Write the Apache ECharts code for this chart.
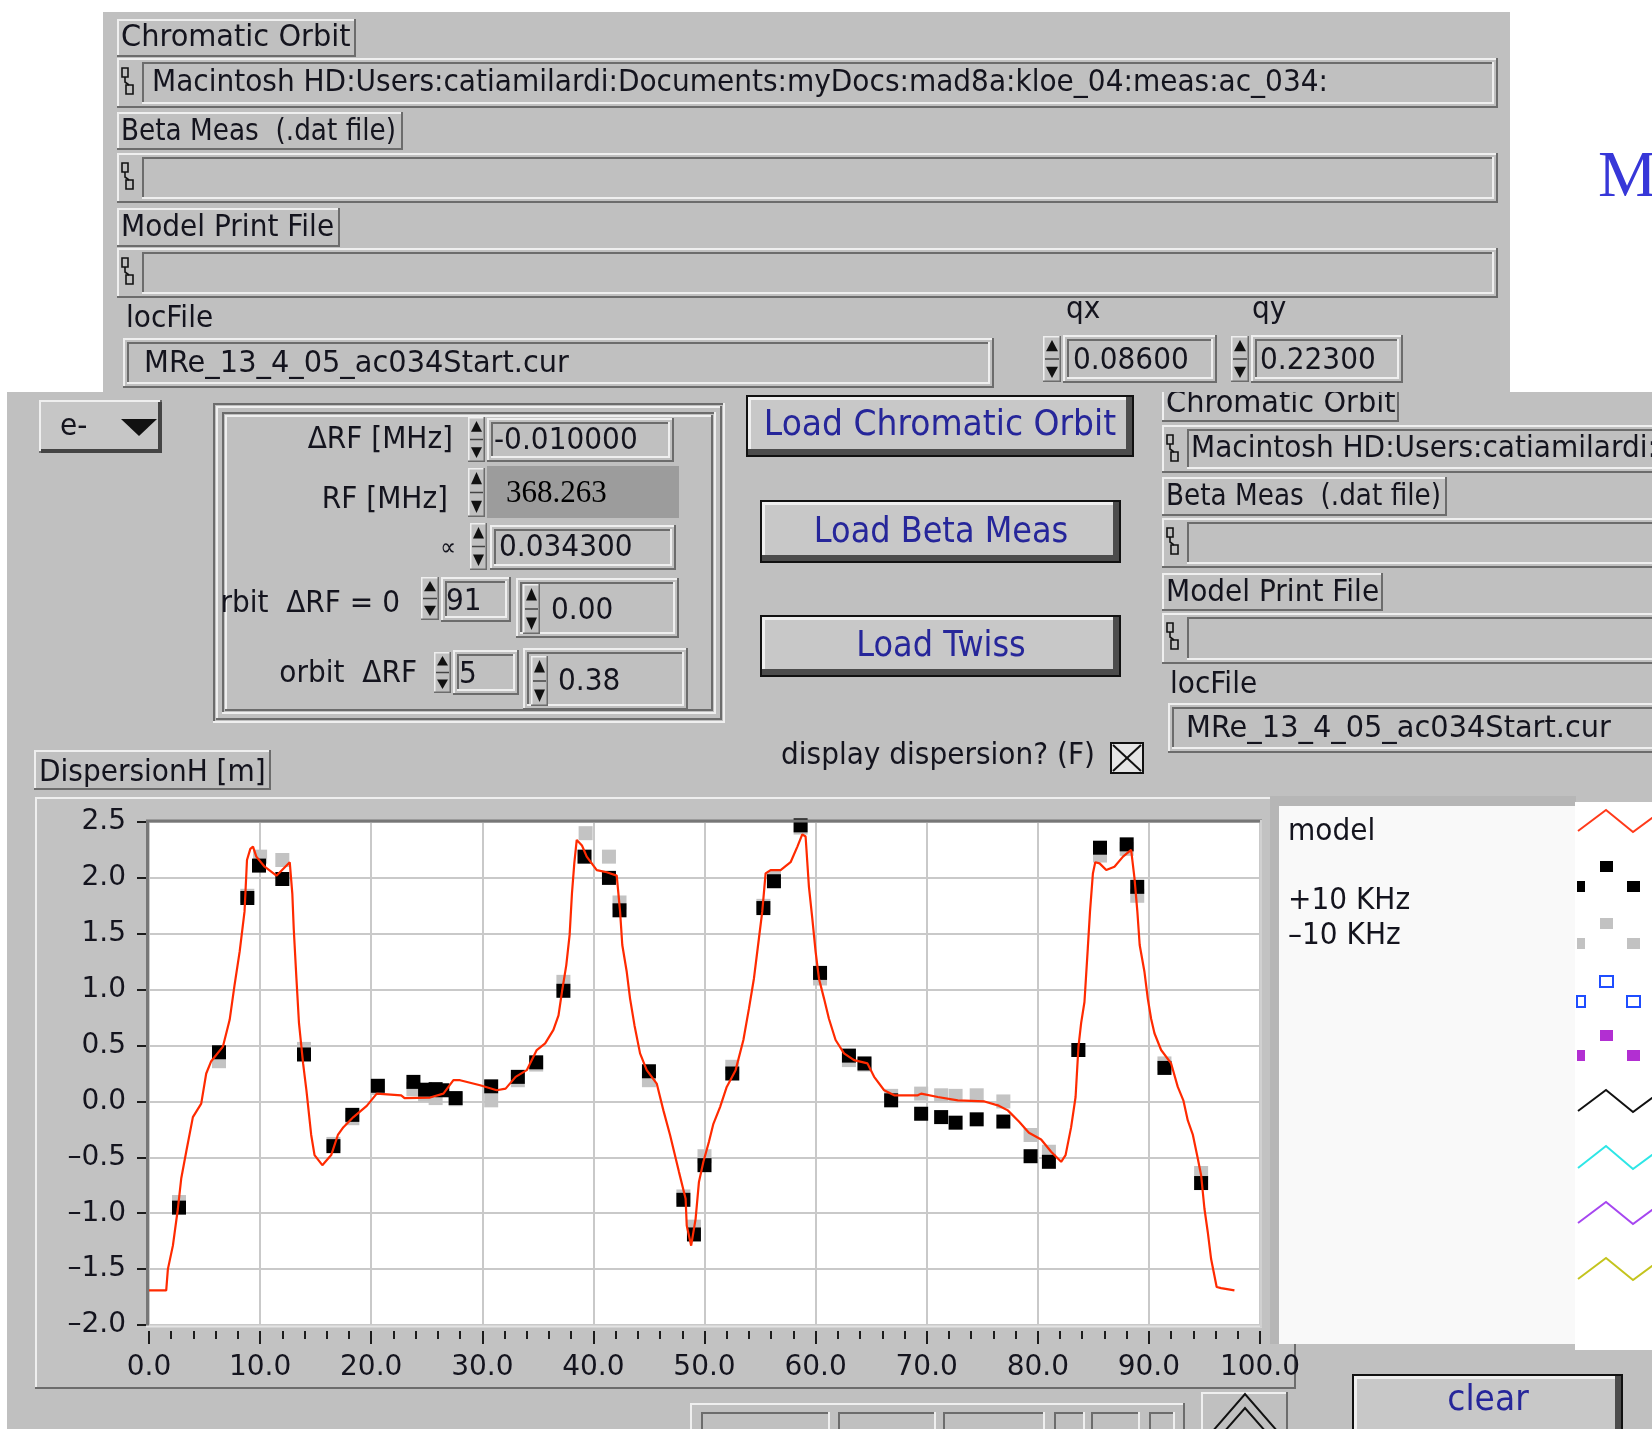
<!DOCTYPE html>
<html>
<head>
<meta charset="utf-8">
<script src="https://cdn.jsdelivr.net/npm/echarts/dist/echarts.min.js"></script>
<style>
html,body{margin:0;padding:0;background:#fff;}
#c{width:1652px;height:1429px;}
</style>
</head>
<body>
<div id="c"></div>
<script>
// Horizontal dispersion along the ring: model curve and two chromatic-orbit measurements
const modelPos = [0,1.55,1.7,2.15,2.6,2.9,3.35,3.95,4.7,5.15,
  5.6,6.65,7.26,7.7,8.16,8.6,8.82,9.12,9.36,9.66,
  10.41,11.47,12.07,12.67,12.9,13.03,13.27,13.5,13.87,14.17,
  14.6,14.9,15.6,16.4,17.0,17.5,18.4,19.6,20.5,22.7,
  23.0,25.3,26.5,27.4,28.0,29.8,31.3,32.1,33.0,34.0,
  34.9,35.66,36.4,36.86,37.17,37.56,37.86,38.07,38.28,38.5,
  38.97,39.4,40.3,41.2,42.1,42.4,42.6,43.0,43.3,43.7,
  44.2,44.8,45.7,46.3,46.9,47.7,48.3,48.4,48.8,49.2,
  49.5,49.9,50.4,50.8,51.4,52.0,52.8,53.5,54.0,54.45,
  54.9,55.2,55.5,55.95,56.85,57.75,58.36,58.8,59.1,59.4,
  59.7,60.0,60.3,60.76,61.2,61.8,62.56,63.46,64.67,65.27,
  66.17,67.07,69.2,69.5,71.0,72.8,75.2,76.4,77.3,78.3,
  79.2,80.3,81.2,82.1,82.5,83.0,83.4,83.66,83.9,84.2,
  84.5,84.7,84.96,85.17,85.56,86.16,86.9,87.67,88.4,88.7,
  88.96,89.17,89.6,89.9,90.2,90.5,91.1,92.0,92.6,93.1,
  93.5,93.96,94.4,94.7,95.0,95.3,95.6,96.1,96.5,97.7];
const modelDisp = [-1.69,-1.69,-1.5,-1.29,-0.96,-0.69,-0.45,-0.14,-0.02,0.25,
  0.36,0.49,0.73,1.04,1.34,1.70,2.16,2.26,2.28,2.19,
  2.10,2.02,2.08,2.14,1.86,1.54,1.10,0.70,0.34,0.10,
  -0.30,-0.48,-0.57,-0.48,-0.30,-0.23,-0.14,-0.04,0.07,0.055,
  0.03,0.035,0.07,0.19,0.19,0.145,0.10,0.115,0.22,0.28,
  0.46,0.52,0.64,0.77,0.98,1.22,1.49,1.86,2.13,2.34,
  2.29,2.19,2.07,2.05,2.02,1.70,1.40,1.16,0.92,0.68,
  0.43,0.28,0.16,-0.08,-0.30,-0.63,-0.87,-1.11,-1.29,-1.05,
  -0.72,-0.54,-0.36,-0.20,-0.05,0.13,0.28,0.55,0.83,1.10,
  1.46,1.70,2.04,2.07,2.07,2.14,2.28,2.39,2.37,1.92,
  1.64,1.34,1.10,0.92,0.74,0.55,0.43,0.37,0.34,0.22,
  0.10,0.055,0.055,0.07,0.04,0.01,0.0,-0.035,-0.08,-0.18,
  -0.28,-0.34,-0.45,-0.54,-0.48,-0.23,0.04,0.49,0.70,0.89,
  1.37,1.70,2.04,2.14,2.13,2.07,2.10,2.19,2.25,2.0,
  1.70,1.40,1.16,0.92,0.74,0.61,0.46,0.34,0.13,0.01,
  -0.17,-0.30,-0.51,-0.66,-0.96,-1.17,-1.41,-1.66,-1.67,-1.69];

// +10 KHz measurement
const plusPos = [2.7,6.3,8.85,9.9,12.0,13.95,16.6,18.3,20.6,23.8,
  24.85,25.8,26.4,27.6,30.8,33.2,34.85,37.3,39.2,41.4,
  42.35,45.0,48.1,49.05,50.0,52.5,55.3,56.25,58.65,60.4,
  63.0,64.4,66.8,69.5,71.3,72.6,74.5,76.9,79.35,81.0,
  83.65,85.6,88.0,88.95,91.4,94.7];
const plusDisp = [-0.95,0.44,1.82,2.11,1.99,0.42,-0.40,-0.12,0.14,0.175,
  0.105,0.11,0.10,0.03,0.135,0.22,0.35,0.99,2.19,2.0,
  1.71,0.27,-0.88,-1.19,-0.57,0.25,1.73,1.97,2.47,1.15,
  0.41,0.34,0.01,-0.11,-0.14,-0.19,-0.16,-0.18,-0.49,-0.54,
  0.46,2.27,2.30,1.92,0.30,-0.73];

// -10 KHz measurement
const minusPos = [2.7,6.3,8.85,10.0,12.0,13.95,16.6,18.3,20.6,23.8,
  24.85,25.8,27.6,30.8,33.2,34.85,37.3,39.3,41.4,42.35,
  45.0,48.1,49.05,50.0,52.5,55.3,56.25,58.65,60.4,63.0,
  64.4,66.8,69.5,71.3,72.6,74.5,76.9,79.35,81.0,83.65,
  85.6,88.0,88.95,91.4,94.7];
const minusDisp = [-0.9,0.36,1.84,2.19,2.16,0.47,-0.38,-0.15,0.12,0.11,
  0.06,0.03,0.02,0.01,0.19,0.33,1.07,2.40,2.19,1.78,
  0.19,-0.85,-1.12,-0.49,0.31,1.75,2.0,2.45,1.10,0.37,
  0.33,0.05,0.07,0.055,0.05,0.055,0.0,-0.30,-0.45,0.46,
  2.2,2.26,1.84,0.34,-0.64];

const legendNames = ['model', '', '+10 KHz', '\u201310 KHz'];
const pathText = 'Macintosh HD:Users:catiamilardi:Documents:myDocs:mad8a:kloe_04:meas:ac_034:';
const locText = 'MRe_13_4_05_ac034Start.cur';

const zip = (a, b) => a.map((v, i) => [v, b[i]]);

// ---------- panel drawing helpers ----------
const FONT = '"DejaVu Sans", "Liberation Sans", sans-serif';
const SERIF = '"Liberation Serif", "DejaVu Serif", serif';
const BG = '#c0c0c0', LT = '#efefef', DK = '#6c6c6c', INK = '#14141e', BTN = '#26269a';
const TALL = 1.1; // panel lettering is drawn taller and horizontally condensed
const els = [];
function rect(x, y, w, h, fill, z, stroke, lw) {
  els.push({type: 'rect', silent: true, z: z || 1, shape: {x, y, width: w, height: h},
    style: {fill: fill || 'none', stroke: stroke || null, lineWidth: lw || 1}});
}
function line(x1, y1, x2, y2, c, w, z) {
  els.push({type: 'line', silent: true, z: z || 1, shape: {x1, y1, x2, y2}, style: {stroke: c, lineWidth: w || 2}});
}
function poly(pts, fill, z) {
  els.push({type: 'polygon', silent: true, z: z || 1, shape: {points: pts}, style: {fill}});
}
function pline(pts, c, w, z) {
  els.push({type: 'polyline', silent: true, z: z || 1, shape: {points: pts}, style: {stroke: c, lineWidth: w || 2, fill: 'none'}});
}
function text(x, base, s, size, o) {
  o = o || {};
  const serif = !!o.family;
  const fs = serif ? size : size * TALL;
  const sx = serif ? 1 : (o.sx || 1) / TALL;
  els.push({type: 'text', silent: true, z: o.z || 2, x: x, y: base - 0.34 * fs, scaleX: sx,
    style: {text: s, font: fs + 'px ' + (o.family || FONT), fill: o.color || INK,
      textAlign: o.align || 'left', align: o.align || 'left', textVerticalAlign: 'middle', verticalAlign: 'middle'}});
}
function bevel(x, y, w, h, up, z, lw) {
  lw = lw || 2;
  const a = up ? LT : DK, b = up ? DK : LT;
  line(x, y + lw / 2, x + w, y + lw / 2, a, lw, z);
  line(x + lw / 2, y, x + lw / 2, y + h, a, lw, z);
  line(x, y + h - lw / 2, x + w, y + h - lw / 2, b, lw, z);
  line(x + w - lw / 2, y, x + w - lw / 2, y + h, b, lw, z);
}
function raised(x, y, w, h, z, fill) { rect(x, y, w, h, fill || BG, z); bevel(x, y, w, h, true, z); }
function field(x, y, w, h, z, fill) {
  rect(x, y, w, h, BG, z);
  bevel(x, y, w, h, true, z);
  if (fill) rect(x + 4, y + 4, w - 8, h - 8, fill, z);
  bevel(x + 4, y + 4, w - 8, h - 8, false, z);
}
function pathIcon(x, y, z) {
  rect(x, y, 6, 9, 'none', z, '#111', 1.6);
  pline([[x + 3, y + 9], [x + 3, y + 14], [x + 7, y + 17]], '#111', 1.6, z);
  rect(x + 4, y + 17, 7, 9, 'none', z, '#111', 1.6);
}
function pathField(x, y, w, h, z) {
  rect(x, y, w, h, BG, z);
  bevel(x, y, w, h, true, z);
  pathIcon(x + 5, y + 10, z);
  bevel(x + 25, y + 4, w - 29, h - 8, false, z);
}
function spinner(x, y, w, h, z) {
  rect(x, y, w, h, BG, z);
  bevel(x, y, w, h, true, z, 1.5);
  const cx = x + w / 2;
  poly([[cx, y + 4], [x + 3, y + h * 0.33], [x + w - 3, y + h * 0.33]], '#111', z);
  line(x + 2, y + h / 2, x + w - 2, y + h / 2, '#444', 1.5, z);
  poly([[x + 3, y + h * 0.67], [x + w - 3, y + h * 0.67], [cx, y + h - 4]], '#111', z);
}
function button(x, y, w, h, label, cx, base, z, size) {
  rect(x, y, w, h, '#111', z);
  rect(x + 2, y + 2, w - 4, h - 4, '#c8c8c8', z);
  line(x + 2, y + 3.5, x + w - 6, y + 3.5, LT, 3, z);
  line(x + 3.5, y + 2, x + 3.5, y + h - 6, LT, 3, z);
  line(x + 2, y + h - 5, x + w - 2, y + h - 5, '#4c4c4c', 6, z);
  line(x + w - 5, y + 2, x + w - 5, y + h - 2, '#4c4c4c', 6, z);
  text(cx, base, label, size || 32, {align: 'center', color: BTN, z: z + 1});
}

// ---------- lower front panel ----------
rect(7, 392, 1660, 1050, BG, 0);

// particle selector
raised(39, 400, 123, 53, 1, '#c6c6c6');
line(41, 451, 162, 451, '#444', 4, 1);
line(160, 402, 160, 453, '#444', 4, 1);
text(60, 437, 'e-', 28);
poly([[121, 419], [157, 419], [139, 436]], '#111', 2);

// parameter group
bevel(213, 403, 512, 320, false, 1);
bevel(216, 406, 506, 314, true, 1);
bevel(222, 412, 494, 302, false, 1);
bevel(225, 415, 488, 296, true, 1);

text(453, 450, '\u0394RF [MHz]', 28, {align: 'right'});
spinner(468, 417, 17, 45, 1);
field(487, 418, 187, 44, 1);
text(494, 451, '-0.010000', 28);

text(448, 510, 'RF [MHz]', 28, {align: 'right'});
spinner(468, 468, 17, 49, 1);
rect(487, 466, 192, 52, '#9c9c9c', 1);
text(506, 504, '368.263', 31, {family: SERIF, color: '#000'});

text(456, 557, '\u221d', 22, {align: 'right'});
spinner(470, 523, 17, 47, 1);
field(490, 525, 186, 45, 1);
text(499, 558, '0.034300', 28);

text(400, 614, 'rbit  \u0394RF = 0', 28, {align: 'right'});
spinner(421, 577, 18, 43, 1);
field(441, 577, 70, 45, 1);
text(446, 612, '91', 28);
field(516, 578, 163, 60, 1);
spinner(523, 584, 17, 50, 1);
text(551, 621, '0.00', 28);

text(417, 684, 'orbit  \u0394RF', 28, {align: 'right'});
spinner(434, 652, 17, 41, 1);
field(453, 650, 66, 45, 1);
text(459, 685, '5', 28);
field(523, 648, 165, 62, 1);
spinner(531, 656, 17, 50, 1);
text(558, 692, '0.38', 28);

// action buttons
button(746, 395, 388, 62, 'Load Chromatic Orbit', 940, 438, 1, 33);
button(760, 500, 361, 63, 'Load Beta Meas', 941, 545, 1);
button(760, 615, 361, 62, 'Load Twiss', 941, 659, 1);

// right-hand file column
raised(1162, 384, 237, 38, 1);
text(1166, 414, 'Chromatic Orbit', 28, {sx: 1.03});
pathField(1162, 425, 520, 48, 1);
text(1191, 459, pathText, 28);
raised(1162, 477, 285, 39, 1);
text(1166, 507, 'Beta Meas  (.dat file)', 28, {sx: 0.94});
pathField(1162, 518, 520, 50, 1);
raised(1162, 573, 221, 38, 1);
text(1166, 603, 'Model Print File', 28);
pathField(1162, 613, 520, 51, 1);
text(1170, 695, 'locFile', 28);
field(1168, 703, 520, 50, 1);
text(1186, 739, locText, 28, {sx: 1.03});

// display toggle
text(781, 766, 'display dispersion? (F)', 28);
rect(1111, 743, 32, 30, '#e6e6e6', 1, '#111', 2);
line(1113, 745, 1141, 771, '#111', 2, 2);
line(1141, 745, 1113, 771, '#111', 2, 2);

// graph caption and frame
raised(34, 750, 237, 40, 1);
text(39, 783, 'DispersionH [m]', 28);
rect(35, 797, 1261, 592, '#c2c2c2', 1);
bevel(35, 797, 1261, 592, true, 1);

// plot area background and sunken edges
const PT = 822, PB = 1325;
rect(149, PT, 1111, PB - PT, '#ffffff', 2);
line(146, PT - 1, 1262, PT - 1, '#777', 3, 8);
line(147.5, PT - 2, 147.5, PB + 1, '#777', 3, 8);
line(146, PB + 1.5, 1262, PB + 1.5, '#e4e4e4', 2, 8);
line(1261, PT - 2, 1261, PB + 2, '#d0d0d0', 2, 8);

// plot legend
rect(1270, 796, 306, 548, '#b6b6b6', 10);
rect(1279, 806, 297, 538, '#f9f9f9', 10);
rect(1575, 802, 90, 548, '#ffffff', 10);
text(1288, 842, legendNames[0], 28, {z: 11});
text(1288, 911, legendNames[2], 28, {z: 11});
text(1288, 946, legendNames[3], 28, {z: 11});
pline([[1578, 831], [1606, 810], [1633, 832], [1660, 812]], '#ff3a1a', 2, 11);
function legendDots(yTop, fill, stroke) {
  const sq = (x, y, w) => stroke ? rect(x, y, w, 11, 'none', 11, stroke, 2) : rect(x, y, w, 11, fill, 11);
  sq(1600, yTop, 13); sq(1577, yTop + 20, 8); sq(1627, yTop + 20, 13);
}
legendDots(861, '#000');
legendDots(918, '#c2c2c2');
legendDots(976, null, '#1f4dff');
legendDots(1030, '#b22fd2');
pline([[1578, 1111], [1606, 1090], [1633, 1112], [1660, 1092]], '#111', 2, 11);
pline([[1578, 1168], [1606, 1146], [1633, 1169], [1660, 1149]], '#2ee6e6', 2, 11);
pline([[1578, 1223], [1606, 1202], [1633, 1224], [1660, 1204]], '#a646f0', 2, 11);
pline([[1578, 1279], [1606, 1258], [1633, 1280], [1660, 1260]], '#c4c41e', 2, 11);

// bottom controls
button(1352, 1374, 271, 70, 'clear', 1488, 1413, 1, 33);
raised(690, 1403, 495, 40, 1);
[[701, 129], [838, 98], [943, 102], [1054, 31], [1091, 49], [1149, 26]].forEach(b => {
  bevel(b[0], 1412, b[1], 30, false, 1);
});
raised(1201, 1392, 87, 45, 1);
pline([[1212, 1432], [1245, 1394], [1278, 1432]], '#111', 2, 2);
pline([[1224, 1432], [1245, 1408], [1266, 1432]], '#111', 2, 2);

// ---------- upper file panel ----------
const Z = 20;
rect(103, 12, 1407, 380, BG, Z);
raised(117, 19, 239, 38, Z);
text(121, 48, 'Chromatic Orbit', 28, {z: Z + 1, sx: 1.03});
pathField(117, 58, 1381, 50, Z);
text(152, 93, pathText, 28, {z: Z + 1});
raised(117, 112, 286, 38, Z);
text(121, 142, 'Beta Meas  (.dat file)', 28, {z: Z + 1, sx: 0.94});
pathField(117, 153, 1381, 50, Z);
raised(117, 208, 223, 39, Z);
text(121, 238, 'Model Print File', 28, {z: Z + 1});
pathField(117, 248, 1381, 50, Z);
text(126, 329, 'locFile', 28, {z: Z + 1});
field(123, 338, 871, 50, Z);
text(144, 374, locText, 28, {z: Z + 1, sx: 1.03});
text(1066, 320, 'qx', 28, {z: Z + 1});
text(1252, 320, 'qy', 28, {z: Z + 1});
spinner(1043, 336, 18, 46, Z);
field(1063, 335, 154, 48, Z);
text(1073, 371, '0.08600', 28, {z: Z + 1});
spinner(1231, 336, 18, 46, Z);
field(1251, 335, 152, 48, Z);
text(1260, 371, '0.22300', 28, {z: Z + 1});

text(1598, 201, 'M', 66, {family: SERIF, color: '#3737d8', z: Z + 1});

// ---------- chart ----------
const chart = echarts.init(document.getElementById('c'), null, {renderer: 'canvas', width: 1652, height: 1429});
const fmtY = v => (v < 0 ? '\u2013' : '') + Math.abs(v).toFixed(1);
chart.setOption({
  animation: false,
  backgroundColor: '#ffffff',
  graphic: {elements: els},
  grid: {left: 149, top: PT, width: 1111, height: PB - PT, show: false, containLabel: false},
  xAxis: {
    type: 'value', min: 0, max: 100, interval: 10, offset: 6, z: 3,
    axisLine: {show: false, onZero: false},
    axisTick: {show: true, length: 13, lineStyle: {color: '#1c1c1c', width: 2}},
    minorTick: {show: true, splitNumber: 5, length: 8, lineStyle: {color: '#1c1c1c', width: 2}},
    axisLabel: {margin: 23, fontSize: 28, fontFamily: FONT, color: INK, formatter: v => v.toFixed(1)},
    splitLine: {show: true, lineStyle: {color: '#c9c9c9', width: 2}}
  },
  yAxis: {
    type: 'value', min: -2, max: 2.5, interval: 0.5, z: 3,
    axisLine: {show: false, onZero: false},
    axisTick: {show: true, length: 12, lineStyle: {color: '#1c1c1c', width: 2}},
    axisLabel: {margin: 23, fontSize: 28, fontFamily: FONT, color: INK, formatter: fmtY},
    splitLine: {show: true, lineStyle: {color: '#c9c9c9', width: 2}}
  },
  series: [
    {name: '-10 KHz', type: 'scatter', z: 4, symbol: 'rect', symbolSize: 14,
      itemStyle: {color: '#c3c3c3', opacity: 1}, data: zip(minusPos, minusDisp)},
    {name: '+10 KHz', type: 'scatter', z: 5, symbol: 'rect', symbolSize: 14,
      itemStyle: {color: '#000000', opacity: 1}, data: zip(plusPos, plusDisp)},
    {name: 'model', type: 'line', z: 6, showSymbol: false, symbol: 'none',
      lineStyle: {color: '#ff2a00', width: 2.2}, data: zip(modelPos, modelDisp)}
  ]
});
</script>
</body>
</html>
